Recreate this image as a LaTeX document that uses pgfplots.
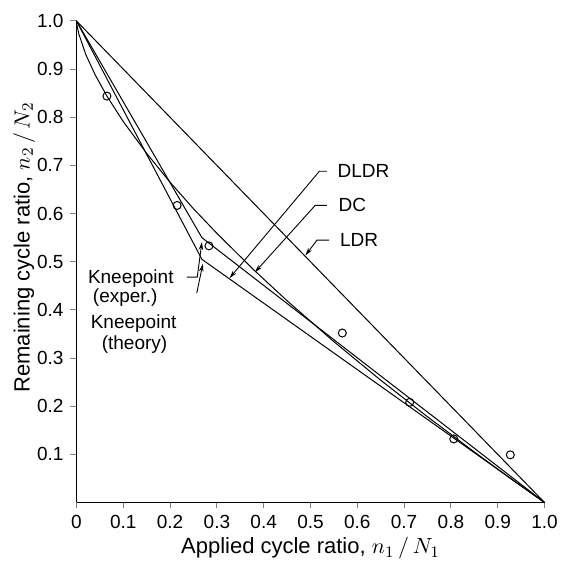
\documentclass[border=0pt]{standalone}
\usepackage{fontspec}
\setmainfont{Liberation Sans}
\usepackage{pgfplots}
\usepackage{pgfplotstable}
\pgfplotsset{compat=1.18}
\usetikzlibrary{arrows.meta,calc}

% damage curve (DC)
\pgfplotstableread{
x      y
0.000  1.000
0.001  0.991
0.005  0.973
0.020  0.930
0.040  0.888
0.065  0.844
0.100  0.791
0.150  0.725
0.200  0.665
0.250  0.610
0.300  0.559
0.380  0.482
0.450  0.419
0.550  0.334
0.650  0.254
0.750  0.178
0.850  0.105
0.930  0.048
1.000  0.000
}\dcdata

% test points
\pgfplotstableread{
x      y
0.065  0.844
0.215  0.617
0.283  0.533
0.568  0.352
0.712  0.208
0.806  0.132
0.927  0.099
}\expdata

\begin{document}
\begin{tikzpicture}[>={Stealth[length=4pt,width=2.2pt]}]
\begin{axis}[
  scale only axis,
  width=234pt, height=240.75pt,
  xmin=0, xmax=1, ymin=0, ymax=1,
  axis x line*=bottom, axis y line*=left,
  axis line style={line width=0.6pt},
  clip=false,
  xtick={0,0.1,0.2,0.3,0.4,0.5,0.6,0.7,0.8,0.9,1.0},
  xticklabels={0,0.1,0.2,0.3,0.4,0.5,0.6,0.7,0.8,0.9,1.0},
  ytick={0.1,0.2,0.3,0.4,0.5,0.6,0.7,0.8,0.9,1.0},
  yticklabels={0.1,0.2,0.3,0.4,0.5,0.6,0.7,0.8,0.9,1.0},
  tick align=outside, major tick length=3pt,
  tick style={line width=0.5pt},
  ticklabel style={font=\fontsize{9.5}{11}\selectfont},
  xlabel={Applied cycle ratio, $n_1\,/\,N_1$},
  ylabel={Remaining cycle ratio, $n_2\,/\,N_2$},
  label style={font=\fontsize{11}{13}\selectfont},
  xlabel style={at={(axis description cs:0.5,-0.095)},anchor=center},
  ylabel style={at={(axis description cs:-0.112,0.53)},anchor=center},
]
\coordinate (SW) at (rel axis cs:0,0);
\coordinate (NE) at (rel axis cs:1,1);

% LDR
\addplot[black, line width=0.5pt] coordinates {(0,1) (1,0)};
% DLDR (theory kneepoint)
\addplot[black, line width=0.5pt] coordinates {(0,1) (0.268,0.505) (1,0)};
% bilinear with experimental kneepoint
\addplot[black, line width=0.5pt] coordinates {(0,1) (0.268,0.550) (1,0)};
% DC
\addplot[black, line width=0.5pt] table[x=x,y=y] {\dcdata};
% experiments
\addplot[only marks, mark=o, mark size=2pt, mark options={fill=white, line width=0.5pt}] table[x=x,y=y] {\expdata};

% labels and leaders
\node[anchor=west, font=\fontsize{9.5}{11}\selectfont] at (axis cs:0.543,0.688) {DLDR};
\node[anchor=west, font=\fontsize{9.5}{11}\selectfont] at (axis cs:0.545,0.617) {DC};
\node[anchor=west, font=\fontsize{9.5}{11}\selectfont] at (axis cs:0.548,0.545) {LDR};
\draw[line width=0.45pt,->] (axis cs:0.535,0.688) -- (axis cs:0.519,0.688) -- (axis cs:0.327,0.466);
\draw[line width=0.45pt,->] (axis cs:0.535,0.617) -- (axis cs:0.510,0.617) -- (axis cs:0.381,0.478);
\draw[line width=0.45pt,->] (axis cs:0.540,0.545) -- (axis cs:0.514,0.545) -- (axis cs:0.489,0.513);

\node[font=\fontsize{9.5}{11}\selectfont] at (axis cs:0.116,0.466) {Kneepoint};
\node[font=\fontsize{9.5}{11}\selectfont] at (axis cs:0.104,0.425) {(exper.)};
\node[font=\fontsize{9.5}{11}\selectfont] at (axis cs:0.122,0.372) {Kneepoint};
\node[font=\fontsize{9.5}{11}\selectfont] at (axis cs:0.124,0.327) {(theory)};
\draw[line width=0.45pt,->] (axis cs:0.236,0.468) -- (axis cs:0.258,0.468) -- (axis cs:0.268,0.541);
\draw[line width=0.45pt,->] (axis cs:0.257,0.435) -- (axis cs:0.270,0.496);
\end{axis}
\pgfresetboundingbox
\path ($(SW)+(-38.25pt,-29.25pt)$) rectangle ($(NE)+(13.75pt,10.5pt)$);
\end{tikzpicture}
\end{document}
